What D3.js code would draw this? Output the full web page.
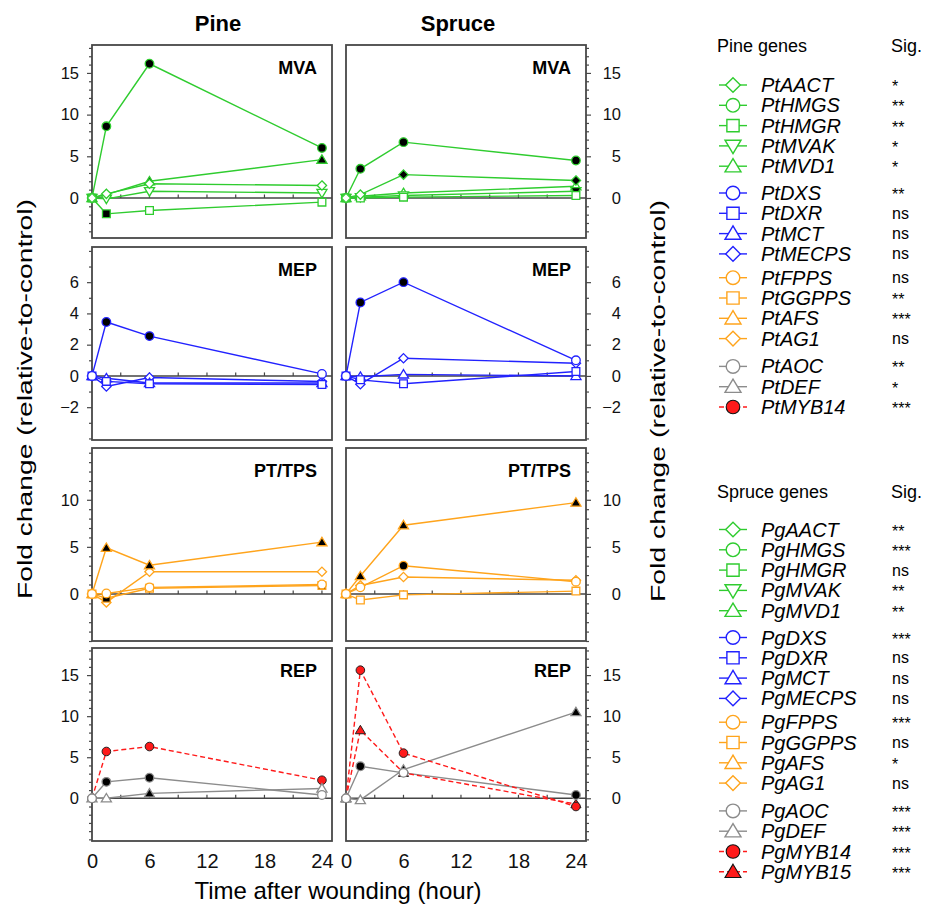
<!DOCTYPE html>
<html><head><meta charset="utf-8">
<script src="https://cdn.jsdelivr.net/npm/d3@7"></script>
<style>body{margin:0;background:#fff} svg{display:block}</style>
</head><body><svg id="c" width="925" height="904"></svg>
<script>
// ---------------- DATA ----------------
const times = [0, 1.5, 6, 24];
const xTicks = [0, 6, 12, 18, 24];
const speciesTitles = ["Pine", "Spruce"];
const pathwayLabels = ["MVA", "MEP", "PT/TPS", "REP"];

// Pine (Pinus) fold changes
const PtAACT  = [0, 0.5, 1.7, 1.5];
const PtHMGS  = [0, 8.6, 16.1, 6.0];
const PtHMGR  = [0, -1.9, -1.5, -0.5];
const PtMVAK  = [0, -0.1, 0.8, 0.6];
const PtMVD1  = [0, 0.4, 2.0, 4.6];
const PtDXS   = [0, 3.45, 2.55, 0.13];
const PtDXR   = [0, -0.35, -0.5, -0.55];
const PtMCT   = [0, -0.15, -0.45, -0.45];
const PtMECPS = [0, -0.68, -0.1, -0.36];
const PtFPPS  = [0, 0.05, 0.7, 1.0];
const PtGGPPS = [0, -0.45, 0.6, 0.9];
const PtAFS   = [0, 4.9, 3.05, 5.5];
const PtAG1   = [0, -0.9, 2.35, 2.35];
const PtAOC   = [0, 2.0, 2.5, 0.4];
const PtDEF   = [0, 0.0, 0.6, 1.2];
const PtMYB14 = [0, 5.7, 6.3, 2.2];

// Spruce (Picea) fold changes
const PgAACT  = [0, 0.4, 2.8, 2.1];
const PgHMGS  = [0, 3.5, 6.7, 4.5];
const PgHMGR  = [0, 0.0, 0.1, 0.3];
const PgMVAK  = [0, 0.1, 0.3, 0.8];
const PgMVD1  = [0, 0.2, 0.6, 1.4];
const PgDXS   = [0, 4.7, 6.0, 1.0];
const PgDXR   = [0, -0.25, -0.5, 0.28];
const PgMCT   = [0, -0.05, 0.1, 0.0];
const PgMECPS = [0, -0.53, 1.13, 0.81];
const PgFPPS  = [0, 0.7, 3.0, 1.3];
const PgGGPPS = [0, -0.65, -0.1, 0.3];
const PgAFS   = [0, 1.9, 7.3, 9.7];
const PgAG1   = [0, 0.9, 1.8, 1.45];
const PgAOC   = [0, 3.9, 3.1, 0.4];
const PgDEF   = [0, -0.2, 3.5, 10.5];
const PgMYB14 = [0, 15.6, 5.5, -1.0];
const PgMYB15 = [0, 8.3, 3.1, -0.7];

// significant time points (1 = black filled marker)
const PtHMGS_sig  = [0, 1, 1, 1];
const PtHMGR_sig  = [0, 1, 0, 0];
const PtMVD1_sig  = [0, 0, 1, 1];
const PtDXS_sig   = [0, 1, 1, 0];
const PtGGPPS_sig = [0, 1, 0, 1];
const PtAFS_sig   = [0, 1, 1, 1];
const PtAOC_sig   = [0, 1, 1, 0];
const PtDEF_sig   = [0, 0, 1, 0];
const PgAACT_sig  = [0, 0, 1, 1];
const PgHMGS_sig  = [0, 1, 1, 1];
const PgMVAK_sig  = [0, 0, 0, 1];
const PgDXS_sig   = [0, 1, 1, 0];
const PgFPPS_sig  = [0, 0, 1, 0];
const PgAFS_sig   = [0, 1, 1, 1];
const PgAOC_sig   = [0, 1, 0, 1];
const PgDEF_sig   = [0, 0, 1, 1];

// legends
const pineGenes  = ["PtAACT","PtHMGS","PtHMGR","PtMVAK","PtMVD1","PtDXS","PtDXR","PtMCT","PtMECPS","PtFPPS","PtGGPPS","PtAFS","PtAG1","PtAOC","PtDEF","PtMYB14"];
const pineSig    = ["*","**","**","*","*","**","ns","ns","ns","ns","**","***","ns","**","*","***"];
const spruceGenes = ["PgAACT","PgHMGS","PgHMGR","PgMVAK","PgMVD1","PgDXS","PgDXR","PgMCT","PgMECPS","PgFPPS","PgGGPPS","PgAFS","PgAG1","PgAOC","PgDEF","PgMYB14","PgMYB15"];
const spruceSig   = ["**","***","ns","**","**","***","ns","ns","ns","***","ns","*","ns","***","***","***","***"];

// y ranges and ticks per pathway row
const yDomains = [[-4.8, 18.35], [-4.1, 8.25], [-5, 15.5], [-5.2, 18.3]];
const yMajor = [[0,5,10,15], [-2,0,2,4,6], [0,5,10], [0,5,10,15]];

// ---------------- STYLE / LAYOUT ----------------
const FONT = "'Liberation Sans', Arial, Helvetica, sans-serif";
const COL = {MVA:"#2fcc2f", MEP:"#2222ff", PT:"#ffa41c", REP:"#8c8c8c", MYB:"#ff1a1a"};
const geneInfo = {
  AACT:{shape:"diamond", grp:0}, HMGS:{shape:"circle", grp:0}, HMGR:{shape:"square", grp:0},
  MVAK:{shape:"tridown", grp:0}, MVD1:{shape:"tri", grp:0},
  DXS:{shape:"circle", grp:1}, DXR:{shape:"square", grp:1}, MCT:{shape:"tri", grp:1}, MECPS:{shape:"diamond", grp:1},
  FPPS:{shape:"circle", grp:2}, GGPPS:{shape:"square", grp:2}, AFS:{shape:"tri", grp:2}, AG1:{shape:"diamond", grp:2},
  AOC:{shape:"circle", grp:3}, DEF:{shape:"tri", grp:3}, MYB14:{shape:"circle", grp:3, myb:true}, MYB15:{shape:"tri", grp:3, myb:true}
};
const grpColor = [COL.MVA, COL.MEP, COL.PT, COL.REP];

const dataLookup = {PtAACT,PtHMGS,PtHMGR,PtMVAK,PtMVD1,PtDXS,PtDXR,PtMCT,PtMECPS,PtFPPS,PtGGPPS,PtAFS,PtAG1,PtAOC,PtDEF,PtMYB14,
  PgAACT,PgHMGS,PgHMGR,PgMVAK,PgMVD1,PgDXS,PgDXR,PgMCT,PgMECPS,PgFPPS,PgGGPPS,PgAFS,PgAG1,PgAOC,PgDEF,PgMYB14,PgMYB15};
const sigLookup = {PtHMGS_sig,PtHMGR_sig,PtMVD1_sig,PtDXS_sig,PtGGPPS_sig,PtAFS_sig,PtAOC_sig,PtDEF_sig,
  PgAACT_sig,PgHMGS_sig,PgMVAK_sig,PgDXS_sig,PgFPPS_sig,PgAFS_sig,PgAOC_sig,PgDEF_sig};

function shapePath(type, r) {
  switch (type) {
    case "circle": return `M${r},0A${r},${r} 0 1,1 ${-r},0A${r},${r} 0 1,1 ${r},0Z`;
    case "square": { const a = r*0.9; return `M${-a},${-a}H${a}V${a}H${-a}Z`; }
    case "diamond": { const a = r*1.08; return `M0,${-a}L${a},0L0,${a}L${-a},0Z`; }
    case "tri": { const a = r*1.12; return `M0,${-a}L${a*1.05},${a*0.75}L${-a*1.05},${a*0.75}Z`; }
    case "tridown": { const a = r*1.12; return `M0,${a}L${a*1.05},${-a*0.75}L${-a*1.05},${-a*0.75}Z`; }
  }
}

const svg = d3.select("#c");
const colX0 = [92, 346], colW = 240;
const rowTop = [45, 247, 448, 648], rowH = 193;

const allGenesByCol = [pineGenes, spruceGenes];

for (let c = 0; c < 2; c++) {
  const x = d3.scaleLinear().domain([0, 25.05]).range([colX0[c], colX0[c] + colW]);
  for (let r = 0; r < 4; r++) {
    const y = d3.scaleLinear().domain(yDomains[r]).range([rowTop[r] + rowH, rowTop[r]]);
    const g = svg.append("g");
    // frame
    g.append("rect").attr("x", colX0[c]).attr("y", rowTop[r]).attr("width", colW).attr("height", rowH)
      .attr("fill", "none").attr("stroke", "#474747").attr("stroke-width", 1.8);
    // y axis (outer side)
    const minor = d3.range(Math.ceil(yDomains[r][0]), Math.floor(yDomains[r][1]) + 1).filter(v => !yMajor[r].includes(v));
    const ax = c === 0 ? d3.axisLeft(y) : d3.axisRight(y);
    const axMinor = c === 0 ? d3.axisLeft(y) : d3.axisRight(y);
    const axX = c === 0 ? colX0[c] : colX0[c] + colW;
    const gm = g.append("g").attr("transform", `translate(${axX},0)`)
      .call(axMinor.tickValues(minor).tickSize(3).tickFormat(""));
    const ga = g.append("g").attr("transform", `translate(${axX},0)`)
      .call(ax.tickValues(yMajor[r]).tickSize(5).tickPadding(8).tickFormat(d3.format("d")));
    [gm, ga].forEach(s => { s.select(".domain").remove(); s.selectAll("line").attr("stroke", "#474747").attr("stroke-width", 1.2); });
    ga.selectAll("text").attr("font-family", FONT).attr("font-size", 16.5).attr("fill", "#111");
    if (c === 1) ga.selectAll("text").attr("text-anchor", "end").attr("x", 35);
    // zero line with hour ticks
    g.append("line").attr("x1", colX0[c]).attr("x2", colX0[c] + colW).attr("y1", y(0)).attr("y2", y(0))
      .attr("stroke", "#454545").attr("stroke-width", 1.6);
    g.selectAll(".ht").data(d3.range(3, 25, 3)).join("line")
      .attr("x1", d => x(d)).attr("x2", d => x(d)).attr("y1", y(0)).attr("y2", y(0) - 3.5)
      .attr("stroke", "#454545").attr("stroke-width", 1.2);
    // pathway label
    g.append("text").attr("x", colX0[c] + colW - 15).attr("y", rowTop[r] + 29).attr("text-anchor", "end")
      .attr("font-family", FONT).attr("font-weight", "bold").attr("font-size", 18).text(pathwayLabels[r]);

    // series for this panel
    const genes = allGenesByCol[c].filter(n => geneInfo[n.slice(2)].grp === r);
    const series = genes.map(n => {
      const info = geneInfo[n.slice(2)];
      return { name: n, vals: dataLookup[n], sig: sigLookup[n + "_sig"] || [0,0,0,0],
        shape: info.shape, myb: !!info.myb, color: info.myb ? COL.MYB : grpColor[r] };
    });
    const line = d3.line().x((d, i) => x(times[i])).y(d => y(d));
    series.forEach(s => {
      g.append("path").attr("d", line(s.vals)).attr("fill", "none").attr("stroke", s.color)
        .attr("stroke-width", 1.4).attr("stroke-dasharray", s.myb ? "5,3" : null);
    });
    // markers: later series first so earlier ones (e.g. AOC/DEF over MYB) sit on top
    series.slice().reverse().forEach(s => {
      g.selectAll(null).data(s.vals).join("path")
        .attr("transform", (d, i) => `translate(${x(times[i])},${y(d)})`)
        .attr("d", shapePath(s.shape, 4.3))
        .attr("fill", (d, i) => s.myb ? COL.MYB : (s.sig[i] ? "#000" : "#fff"))
        .attr("stroke", (d, i) => s.myb ? "#222" : s.color)
        .attr("stroke-width", s.myb ? 1 : 1.3);
    });
  }
  // x axis labels
  const gx = svg.append("g").attr("transform", `translate(0,${rowTop[3] + rowH})`)
    .call(d3.axisBottom(x).tickValues(xTicks).tickSize(0).tickPadding(12.5).tickFormat(d3.format("d")));
  gx.select(".domain").remove();
  gx.selectAll("text").attr("font-family", FONT).attr("font-size", 20).attr("fill", "#111");
}

// species titles
svg.append("text").attr("x", 218).attr("y", 31).attr("text-anchor", "middle").attr("font-family", FONT)
  .attr("font-weight", "bold").attr("font-size", 22).text(speciesTitles[0]);
svg.append("text").attr("x", 458).attr("y", 31).attr("text-anchor", "middle").attr("font-family", FONT)
  .attr("font-weight", "bold").attr("font-size", 22).text(speciesTitles[1]);

// axis titles
svg.append("text").attr("transform", "translate(32,399) rotate(-90)").attr("text-anchor", "middle")
  .attr("font-family", FONT).attr("font-size", 21).attr("textLength", 400).attr("lengthAdjust", "spacingAndGlyphs")
  .text("Fold change (relative-to-control)");
svg.append("text").attr("transform", "translate(665,401) rotate(-90)").attr("text-anchor", "middle")
  .attr("font-family", FONT).attr("font-size", 21).attr("textLength", 402).attr("lengthAdjust", "spacingAndGlyphs")
  .text("Fold change (relative-to-control)");
svg.append("text").attr("x", 338).attr("y", 899).attr("text-anchor", "middle")
  .attr("font-family", FONT).attr("font-size", 24).text("Time after wounding (hour)");

// legends
const grpGap = [0, 6.5, 10, 17.5];
function drawLegend(title, genes, sigs, titleY, firstY) {
  const g = svg.append("g");
  g.append("text").attr("x", 717).attr("y", titleY).attr("font-family", FONT).attr("font-size", 18).text(title);
  g.append("text").attr("x", 891).attr("y", titleY).attr("font-family", FONT).attr("font-size", 18).text("Sig.");
  genes.forEach((n, i) => {
    const info = geneInfo[n.slice(2)];
    const cy = firstY + i * 20.3 + grpGap[info.grp];
    const color = info.myb ? COL.MYB : grpColor[info.grp];
    g.append("line").attr("x1", 719).attr("x2", 747).attr("y1", cy).attr("y2", cy)
      .attr("stroke", color).attr("stroke-width", 1.4).attr("stroke-dasharray", info.myb ? "5,3" : null);
    g.append("path").attr("transform", `translate(733,${cy})`).attr("d", shapePath(info.shape, 6.8))
      .attr("fill", info.myb ? COL.MYB : "#fff").attr("stroke", info.myb ? "#111" : color)
      .attr("stroke-width", info.myb ? 1.1 : 1.4);
    g.append("text").attr("x", 761).attr("y", cy + 7).attr("font-family", FONT).attr("font-style", "italic")
      .attr("font-size", 20).text(n);
    g.append("text").attr("x", 892).attr("y", cy + (sigs[i] === "ns" ? 5.5 : 7)).attr("font-family", FONT)
      .attr("font-size", 16).text(sigs[i]);
  });
}
drawLegend("Pine genes", pineGenes, pineSig, 52, 85);
drawLegend("Spruce genes", spruceGenes, spruceSig, 497.5, 529.5);
</script>
</body></html>
